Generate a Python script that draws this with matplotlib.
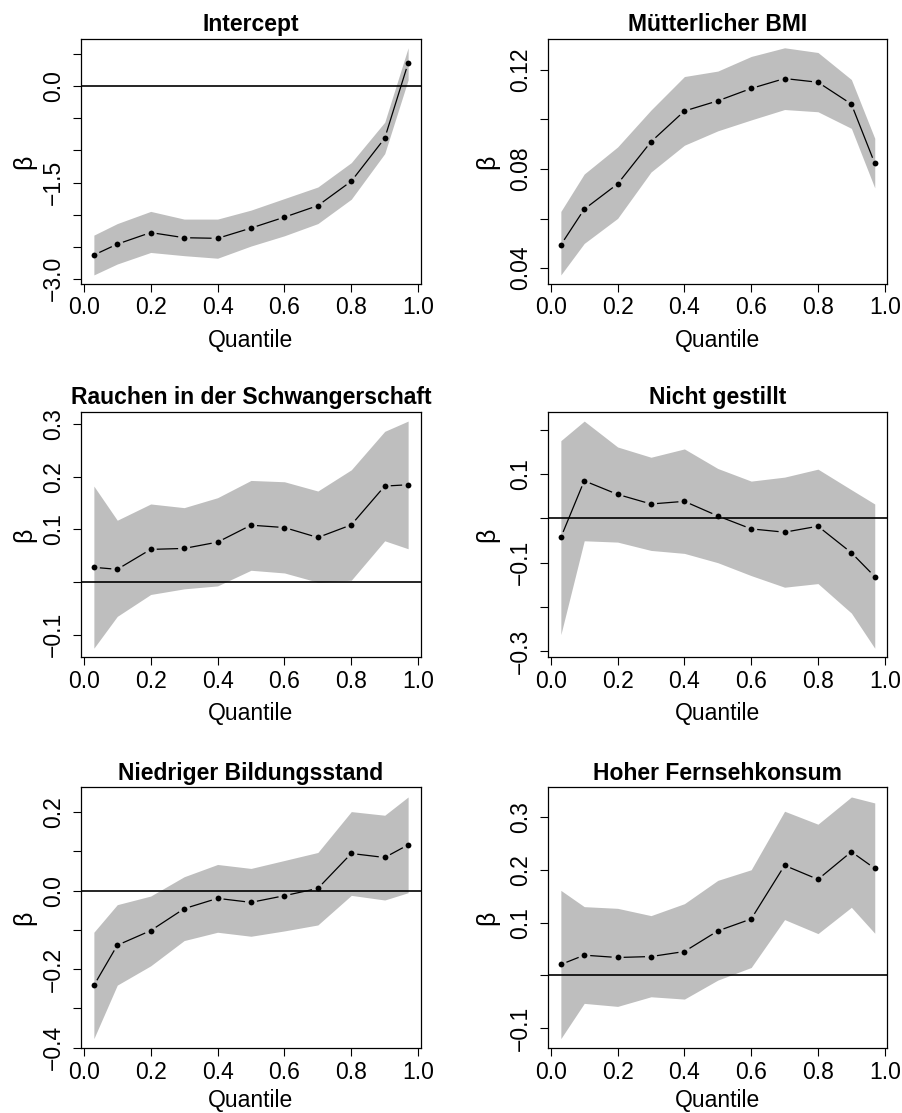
import numpy as np
import matplotlib
matplotlib.use("Agg")
import matplotlib.pyplot as plt
from matplotlib.collections import LineCollection

plt.rcParams['font.family'] = ['Liberation Sans', 'DejaVu Sans']

quantiles = [0.03, 0.1, 0.2, 0.3, 0.4, 0.5, 0.6, 0.7, 0.8, 0.9, 0.97]

intercept_est = [-2.63, -2.46, -2.28, -2.36, -2.37, -2.21, -2.04, -1.86, -1.48, -0.81, 0.36]
intercept_lo = [-2.94, -2.77, -2.59, -2.64, -2.68, -2.49, -2.33, -2.14, -1.76, -1.05, 0.10]
intercept_hi = [-2.32, -2.14, -1.95, -2.07, -2.07, -1.93, -1.75, -1.57, -1.19, -0.56, 0.60]

bmi_est = [0.0494, 0.0638, 0.0740, 0.0910, 0.1034, 0.1075, 0.1125, 0.1165, 0.1150, 0.1062, 0.0823]
bmi_lo = [0.0373, 0.0500, 0.0601, 0.0788, 0.0896, 0.0954, 0.0998, 0.1040, 0.1031, 0.0964, 0.0724]
bmi_hi = [0.0629, 0.0780, 0.0889, 0.1038, 0.1173, 0.1195, 0.1254, 0.1289, 0.1270, 0.1161, 0.0924]

smoke_est = [0.0277, 0.0239, 0.0618, 0.0636, 0.0756, 0.1078, 0.1033, 0.0844, 0.1084, 0.1821, 0.1846]
smoke_lo = [-0.126, -0.0655, -0.0239, -0.0132, -0.0076, 0.0221, 0.0170, -0.0006, 0.0032, 0.0781, 0.0630]
smoke_hi = [0.1821, 0.1172, 0.1481, 0.1411, 0.1600, 0.1928, 0.1903, 0.1727, 0.2130, 0.2861, 0.3056]

breast_est = [-0.0434, 0.0846, 0.0539, 0.0322, 0.0382, 0.0052, -0.0240, -0.0315, -0.0180, -0.0779, -0.1318]
breast_lo = [-0.2629, -0.0509, -0.0539, -0.0727, -0.0794, -0.1004, -0.1296, -0.1558, -0.1476, -0.2142, -0.2936]
breast_hi = [0.1753, 0.2195, 0.1610, 0.1378, 0.1566, 0.1124, 0.0839, 0.0929, 0.1109, 0.0644, 0.0322]

educ_est = [-0.2415, -0.139, -0.1017, -0.0458, -0.0195, -0.0297, -0.0127, 0.0059, 0.0949, 0.0847, 0.1169]
educ_lo = [-0.3771, -0.2407, -0.1915, -0.1271, -0.1059, -0.1161, -0.1025, -0.0873, -0.0119, -0.0237, -0.0051]
educ_hi = [-0.1059, -0.0356, -0.0136, 0.0356, 0.0669, 0.0568, 0.0771, 0.0975, 0.2017, 0.1924, 0.2390]

tv_est = [0.0208, 0.0384, 0.0340, 0.0358, 0.0453, 0.0843, 0.1069, 0.2082, 0.1818, 0.2340, 0.2025]
tv_lo = [-0.1195, -0.0528, -0.0585, -0.0403, -0.0447, -0.0088, 0.0151, 0.1057, 0.0792, 0.1289, 0.0799]
tv_hi = [0.161, 0.1302, 0.1270, 0.1132, 0.1358, 0.1799, 0.2000, 0.3107, 0.2862, 0.3377, 0.3264]

titles = ["Intercept", "Mütterlicher BMI", "Rauchen in der Schwangerschaft",
          "Nicht gestillt", "Niedriger Bildungsstand", "Hoher Fernsehkonsum"]

# y ticks per panel, with the labels that get printed ('' = tick only)
yticks = [
    [-3.0, -2.5, -2.0, -1.5, -1.0, -0.5, 0.0, 0.5],
    [0.04, 0.06, 0.08, 0.10, 0.12],
    [-0.1, 0.0, 0.1, 0.2, 0.3],
    [-0.3, -0.2, -0.1, 0.0, 0.1, 0.2],
    [-0.4, -0.3, -0.2, -0.1, 0.0, 0.1, 0.2],
    [-0.1, 0.0, 0.1, 0.2, 0.3],
]
yticklabels = [
    ["\u22123.0", "", "", "\u22121.5", "", "", "0.0", ""],
    ["0.04", "", "0.08", "", "0.12"],
    ["\u22120.1", "", "0.1", "0.2", "0.3"],
    ["\u22120.3", "", "\u22120.1", "", "0.1", ""],
    ["\u22120.4", "", "\u22120.2", "", "0.0", "", "0.2"],
    ["\u22120.1", "", "0.1", "0.2", "0.3"],
]

panels = [
    (intercept_est, intercept_lo, intercept_hi),
    (bmi_est, bmi_lo, bmi_hi),
    (smoke_est, smoke_lo, smoke_hi),
    (breast_est, breast_lo, breast_hi),
    (educ_est, educ_lo, educ_hi),
    (tv_est, tv_lo, tv_hi),
]

W, H = 903, 1113
fig = plt.figure(figsize=(W / 100, H / 100), dpi=100)

cols = [(81.3, 420.7), (548.3, 887.3)]
rows = [(38.7, 284.0), (412.0, 657.3), (787.3, 1048.3)]
ylab_off = [57, 61]


def padded(lo, hi, frac=0.04):
    span = hi - lo
    return lo - frac * span, hi + frac * span


def gapped_line(ax, x, y, gap=6.0):
    # connect points like R's type="b": segments stop short of each dot
    pts = ax.transData.transform(np.column_stack([x, y]))
    inv = ax.transData.inverted()
    segs = []
    for p0, p1 in zip(pts[:-1], pts[1:]):
        d = p1 - p0
        n = np.hypot(*d)
        if n <= 2 * gap:
            continue
        u = d / n
        segs.append([inv.transform(p0 + u * gap), inv.transform(p1 - u * gap)])
    ax.add_collection(LineCollection(segs, colors='black', linewidths=0.9))


for i, (est, lo, hi) in enumerate(panels):
    c, r = i % 2, i // 2
    x0, x1 = cols[c]
    top, bot = rows[r]
    ax = fig.add_axes([x0 / W, 1 - bot / H, (x1 - x0) / W, (bot - top) / H])

    ax.set_xlim(*padded(min(quantiles), max(quantiles)))
    ax.set_ylim(*padded(min(lo), max(hi)))

    ax.fill_between(quantiles, lo, hi, color='#bebebe', linewidth=0)
    ax.axhline(0, color='black', linewidth=1.2)
    gapped_line(ax, quantiles, est)
    ax.plot(quantiles, est, 'o', color='black', markersize=4.2, markeredgewidth=0)

    ax.set_xticks([0.0, 0.2, 0.4, 0.6, 0.8, 1.0])
    ax.set_xticklabels(["0.0", "0.2", "0.4", "0.6", "0.8", "1.0"])
    ax.set_yticks(yticks[i])
    ax.set_yticklabels(yticklabels[i])
    ax.tick_params(axis='both', length=5.5, width=0.8, labelsize=16.5, direction='out')
    ax.tick_params(axis='x', pad=3.5)
    ax.tick_params(axis='y', pad=6, labelrotation=90)
    for lbl in ax.get_yticklabels():
        lbl.set_va('center')

    for sp in ax.spines.values():
        sp.set_linewidth(0.9)

    ax.set_title(titles[i], fontsize=16.5, fontweight='bold', pad=5.5)

    ax.set_xlabel("Quantile", fontsize=16.5)
    ax.xaxis.set_label_coords(0.5, -45.0 / (bot - top) if r < 2 else -41.0 / (bot - top))
    ax.set_ylabel("\u03b2", fontsize=18, va='center')
    ax.yaxis.set_label_coords(-ylab_off[c] / (x1 - x0), 0.5)

fig.savefig("out.png", dpi=100)
